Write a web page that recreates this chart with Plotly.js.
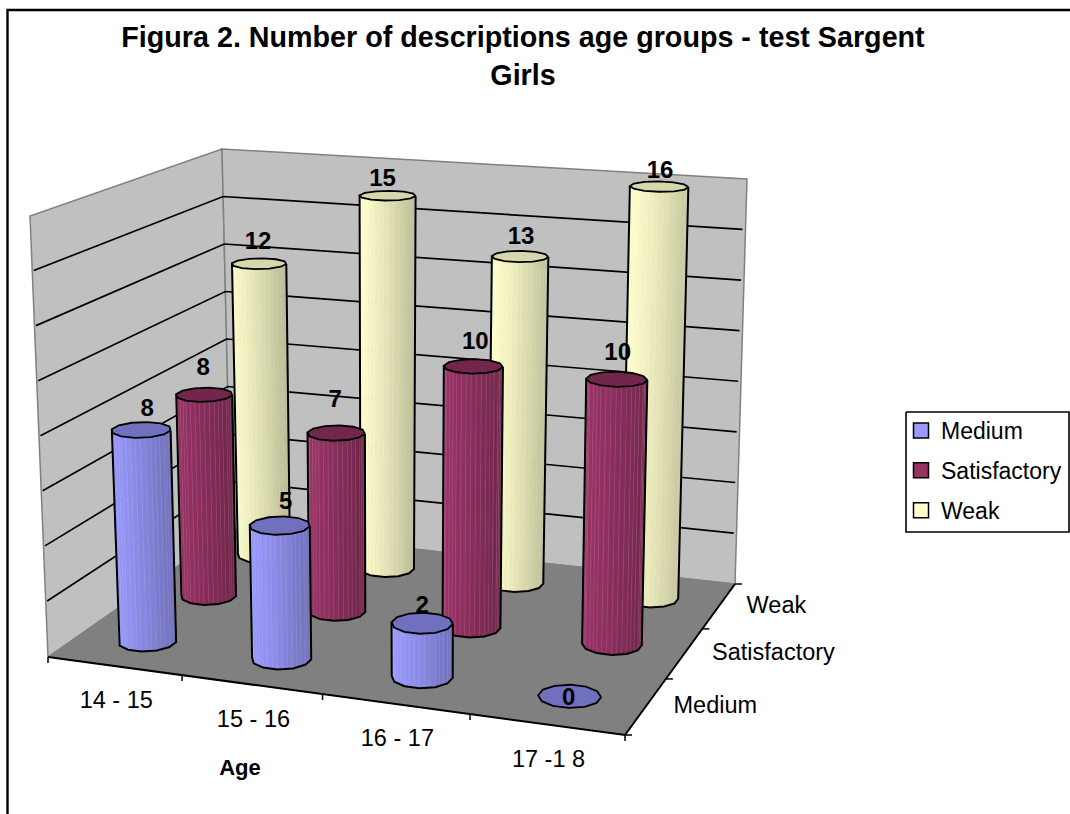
<!DOCTYPE html>
<html><head><meta charset="utf-8">
<script src="https://cdn.plot.ly/plotly-3.0.1.min.js"></script>
<style>html,body{margin:0;padding:0;background:#fff}#c{width:1070px;height:814px}</style>
</head><body><div id="c"></div>
<script>
// ---- chart data ----
const categories = ['14 - 15', '15 - 16', '16 - 17', '17 -1 8'];
const seriesNames = ['Medium', 'Satisfactory', 'Weak'];
const medium = [8, 5, 2, 0];
const satisfactory = [8, 7, 10, 10];
const weak = [12, 15, 13, 16];
const valueAxisMax = 16;
const valueAxisStep = 2;
const ageTitle = 'Age';
const chartTitle = 'Figura 2. Number of descriptions age groups - test Sargent<br>Girls';

// ---- styling ----
const faceColors = [[153,153,255],[153,51,102],[255,255,204]];
const capColors = ['rgb(112,112,190)','rgb(115,38,76)','rgb(215,215,172)'];
const legendColors = ['#9999FF','#993366','#FFFFCC'];
const FONT = '"Liberation Sans", Arial, sans-serif';

// ---- the oblique 3-D view: corners of the floor and of the ceiling of the box ----
const floorQuad = [[48,657],[625,735],[735,584],[231,529]];
const ceilQuad  = [[30,216],[633.5,265],[747,179],[222,149]];
function homography(q){
  const [[x0,y0],[x1,y1],[x2,y2],[x3,y3]] = q;
  const dx1=x1-x2,dx2=x3-x2,sx=x0-x1+x2-x3,dy1=y1-y2,dy2=y3-y2,sy=y0-y1+y2-y3;
  const den=dx1*dy2-dx2*dy1, g=(sx*dy2-dx2*sy)/den, h=(dx1*sy-sx*dy1)/den;
  const a=x1-x0+g*x1,b=x3-x0+h*x3,d=y1-y0+g*y1,e=y3-y0+h*y3;
  return (u,v)=>{const w=g*u+h*v+1;return [(a*u+b*v+x0)/w,(d*u+e*v+y0)/w];};
}
const hF=homography(floorQuad), hC=homography(ceilQuad);
const nX=categories.length, nD=seriesNames.length;
// x in category units, d in series units (0 = front), z in value units
function P(x,d,z){
  const f=hF(x/nX,d/nD), c=hC(x/nX,d/nD), t=z/valueAxisMax;
  return [f[0]+(c[0]-f[0])*t, f[1]+(c[1]-f[1])*t];
}
// same view for the columns, with the slight bow of the original's perspective
const BOW_X=11, BOW_Z=0.012;
function Pc(x,d,z){
  const f=hF(x/nX,d/nD), c=hC(x/nX,d/nD), t0=z/valueAxisMax;
  const t=t0-BOW_Z*Math.sin(Math.PI*t0);
  return [f[0]+(c[0]+BOW_X*Math.sin(Math.PI*x/nX)-f[0])*t, f[1]+(c[1]-f[1])*t];
}

const traces=[];
function poly(pts,fill,lineColor,lineWidth){
  traces.push({type:'scatter',mode:'lines',x:pts.map(p=>p[0]).concat([pts[0][0]]),y:pts.map(p=>p[1]).concat([pts[0][1]]),
    fill:'toself',fillcolor:fill,line:{color:lineColor,width:lineWidth},hoverinfo:'skip',showlegend:false});
}
function path(pts,color,width){
  traces.push({type:'scatter',mode:'lines',x:pts.map(p=>p?p[0]:null),y:pts.map(p=>p?p[1]:null),connectgaps:false,
    line:{color:color,width:width},hoverinfo:'skip',showlegend:false});
}
function texts(pts,strs,pos,size,bold){
  traces.push({type:'scatter',mode:'text',x:pts.map(p=>p[0]),y:pts.map(p=>p[1]),text:strs.map(s=>bold?'<b>'+s+'</b>':s),
    textposition:pos,textfont:{family:FONT,size:size,color:'#000'},hoverinfo:'skip',showlegend:false,cliponaxis:false});
}

// chart-area frame
path([[7.5,814],[7.5,10],[1070,10]],'#000',2.4);
// legend frame
poly([[906,412],[1069,412],[1069,532],[906,532]],'#fff','#000',1.6);

// walls and floor
poly([P(0,0,0),P(0,nD,0),P(0,nD,valueAxisMax),P(0,0,valueAxisMax)],'#C0C0C0','#808080',1.5);
poly([P(0,nD,0),P(nX,nD,0),P(nX,nD,valueAxisMax),P(0,nD,valueAxisMax)],'#C0C0C0','#808080',1.5);
poly([P(0,0,0),P(nX,0,0),P(nX,nD,0),P(0,nD,0)],'#808080','#808080',1);

// gridlines
for(let z=valueAxisStep;z<valueAxisMax;z+=valueAxisStep){
  path([P(0,0.02,z),P(0,nD,z),P(nX-0.02,nD,z)],'#000',1.7);
}
// axis lines and ticks
path([P(0,0,0),P(nX,0,0),P(nX,nD,0)],'#000',2);
const tickPts=[];
for(let i=0;i<=nX;i++){const p=P(i,0,0);tickPts.push(p,[p[0],p[1]+6],null);}
for(let i=0;i<=nD;i++){const p=P(nX,i,0);tickPts.push(p,[p[0]+7,p[1]],null);}
path(tickPts,'#000',1.5);

// cylinders, back row first
const rows=[medium,satisfactory,weak];
const R=0.2, SIDES=12, SUB=3, ROT=Math.PI/SIDES;
function ring(cx,cd,z){
  const out=[];
  for(let k=0;k<SIDES;k++){const t=ROT+k*2*Math.PI/SIDES;out.push(Pc(cx+R*Math.cos(t),cd+R*Math.sin(t),z));}
  return out;
}
const lerp=(a,b,t)=>[a[0]+(b[0]-a[0])*t,a[1]+(b[1]-a[1])*t];
function area(q){let s=0;for(let i=0;i<q.length;i++){const a=q[i],b=q[(i+1)%q.length];s+=a[0]*b[1]-b[0]*a[1];}return s;}
const labels=[], labelTexts=[];
// hand-read shifts of the value labels from their column tops: [series][category]
const labelShift=[
  [[6,-20],[6,-22],[0,-16],[-1,3]],
  [[-1,-26],[-1,-32],[2,-23],[1,-25]],
  [[-1,-21],[-5,-16],[1,-18],[1,-15]]
];
for(let s=nD-1;s>=0;s--){
  for(let i=0;i<nX;i++){
    const v=rows[s][i], cx=i+0.5, cd=s+0.5;
    const b=ring(cx,cd,0), t=ring(cx,cd,v);
    if(v>0){
      const xs=b.concat(t).map(p=>p[0]);
      const minX=Math.min(...xs), maxX=Math.max(...xs);
      const hatch=[], chain=[];
      const vis=[];
      for(let k=0;k<SIDES;k++){const n=(k+1)%SIDES; if(area([b[k],b[n],t[n],t[k]])<0) vis.push(k);}
      vis.sort((p,q)=>b[p][0]-b[q][0]);
      vis.forEach(k=>{
        const n=(k+1)%SIDES;
        for(let j=0;j<SUB;j++){
          const a0=j/SUB,a1=(j+1)/SUB;
          const q=[lerp(b[k],b[n],a0),lerp(b[k],b[n],a1),lerp(t[k],t[n],a1),lerp(t[k],t[n],a0)];
          const m=(q[0][0]+q[1][0])/2, f=(m-minX)/(maxX-minX);
          const shade=1-0.28*Math.pow(f,1.3);
          const c=faceColors[s].map(w=>Math.round(w*shade));
          const col='rgb('+c.join(',')+')';
          poly(q,col,col,0.6);
          if(j>0||k!==vis[0]) hatch.push(q[0],q[3],null);
        }
        chain.push(b[k]);
      });
      path(hatch,'rgba(255,255,255,0.11)',1);
      const last=vis[vis.length-1], first=vis[0];
      chain.push(b[(last+1)%SIDES]);
      const sil=[t[first]].concat(chain,[t[(last+1)%SIDES]]);
      path(sil,'#000',2);
    }
    poly(t,capColors[s],'#000',1.8);
    const cc=Pc(cx,cd,v), sh=labelShift[s][i];
    labels.push([cc[0]+sh[0],cc[1]+sh[1]]);
    labelTexts.push(String(v));
  }
}
// value labels on top of everything
texts(labels,labelTexts,'middle center',24,true);
// category and series labels
texts(categories.map((c,i)=>{const p=P(i+0.5,0,0);return [p[0]+2,p[1]+36.5];}),categories,'middle center',23.5,false);
texts(seriesNames.map((c,i)=>{const p=P(nX,i+0.5,0);return [p[0]+27.5,p[1]+1];}),seriesNames,'middle right',23.5,false);
texts([[240,769]],[ageTitle],'middle center',22,true);

// legend entries
seriesNames.forEach((n,i)=>traces.push({type:'scatter',mode:'markers',x:[null],y:[null],name:n,legendgroup:n,
  marker:{symbol:'square',size:15,color:legendColors[i],line:{color:'#000',width:1.5}},hoverinfo:'skip'}));

const layout={
  width:1070,height:814,margin:{l:0,r:0,t:0,b:0},
  paper_bgcolor:'#fff',plot_bgcolor:'#fff',
  font:{family:FONT,color:'#000'},
  title:{text:'<b>'+chartTitle.replace('<br>','</b><br><b>')+'</b>',x:523/1070,xanchor:'center',y:0.942,yanchor:'top',font:{family:FONT,size:28.7,color:'#000'}},
  xaxis:{range:[0,1070],visible:false,fixedrange:true},
  yaxis:{range:[814,0],visible:false,fixedrange:true},
  showlegend:true,
  legend:{x:908/1070,xanchor:'left',y:1-409/814,yanchor:'top',bgcolor:'rgba(0,0,0,0)',borderwidth:0,indentation:-7,
    font:{family:FONT,size:23,color:'#000'},tracegroupgap:7,itemclick:false,itemdoubleclick:false}
};
Plotly.newPlot('c',traces,layout,{displayModeBar:false,staticPlot:true});
</script></body></html>
